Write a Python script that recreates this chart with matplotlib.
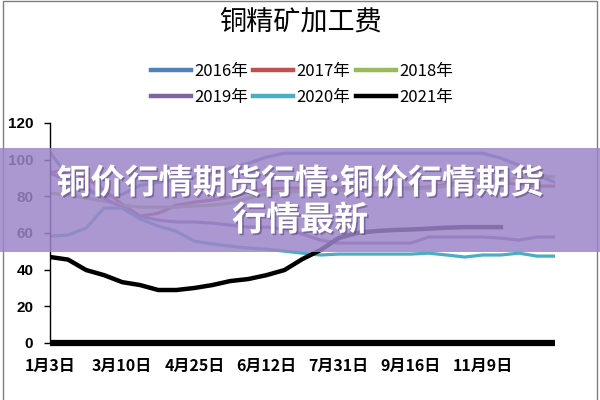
import matplotlib
matplotlib.use('Agg')
import matplotlib.pyplot as plt
from matplotlib.patches import Rectangle
import matplotlib.patheffects as pe

plt.rcParams['font.family'] = ['Noto Sans CJK SC', 'DejaVu Sans']

# ---------------- data ----------------
title = '铜精矿加工费'
weeks = list(range(29))
tick_pos = [0, 4, 8, 12, 16, 20, 24]
tick_labels = ['1月3日', '3月10日', '4月25日', '6月12日', '7月31日', '9月16日', '11月9日']
y_ticks = [0, 20, 40, 60, 80, 100, 120]

y2016 = [104, 91, 83.4, 79.6, 81, 86, 87.7, 88.8, 90.5, 92, 95.4, 98, 101.4, 103.5,
         103.5, 103.5, 103.5, 103.5, 103.5, 103.5, 103.5, 103.5, 103.5, 103.5, 103.5,
         100.8, 97, 91.5, 87.7]
y2017 = [93, 94.3, 90, 83.4, 75.7, 69.2, 70.8, 75.2, 76.8, 78, 79.6, 82.3, 84, 84.5,
         84.5, 84.5, 84.5, 84.5, 84.5, 84.5, 84.5, 85, 86.6, 88.3, 88.3, 87.7, 86.6,
         85.6, 85.6]
y2018 = [81.7, 80.7, 79, 77.4, 75.2, 74.1, 74.1, 74.1, 74.7, 75.2, 76.3, 79, 81.2, 82.3,
         82.8, 83.4, 83.4, 83.4, 83.4, 84, 84, 84.5, 85.6, 86.6, 87.7, 88.8, 90, 91.5,
         90.5]
y2019 = [92.6, 88.8, 84.5, 79, 74.1, 69.2, 67, 66, 66, 65.4, 64.3, 63.2, 63.2, 62.1,
         59.4, 56.1, 54.5, 54.5, 54.5, 54.5, 54.5, 57.8, 57.8, 57.8, 57.8, 57.2, 56.1,
         57.8, 57.8]
y2020 = [58.3, 58.9, 62.7, 73.6, 73.6, 67.6, 63.8, 61, 55.6, 54, 52.8, 51.8, 51.2, 50.1,
         49, 48, 48.5, 48.5, 48.5, 48.5, 48.5, 49, 48, 46.9, 48, 48, 49, 47.4, 47.4]
y2021 = [46.9, 45.5, 39.8, 37, 33.2, 31.6, 28.9, 28.9, 30, 31.6, 33.8, 34.9, 37, 39.8,
         45.8, 50.7, 57.2, 60, 61, 61.6, 61.9, 62.4, 62.9, 63.2, 63.2, 63.2]

series_names = ['2016年', '2017年', '2018年', '2019年', '2020年', '2021年']
series_vals = [y2016, y2017, y2018, y2019, y2020, y2021]
colors = ['#4F81BD', '#C0504D', '#9BBB59', '#8064A2', '#4BACC6', '#000000']

banner_line1 = '铜价行情期货行情:铜价行情期货'
banner_line2 = '行情最新'

# ---------------- figure ----------------
fig = plt.figure(figsize=(6, 4), dpi=100)
ax = fig.add_axes([50/600, 1-343/400, 505/600, 220/400])

handles = {}
for name, vals, c in zip(series_names, series_vals, colors):
    lw = 3.2 if name == '2021年' else 2.3
    h, = ax.plot(weeks[:len(vals)], vals, color=c, lw=lw, solid_joinstyle='round')
    handles[name] = h

ax.axhline(0, color='black', lw=4.5, clip_on=False, solid_capstyle='butt', zorder=5)

ax.set_xlim(0, 28)
ax.set_ylim(0, 120)
ax.set_xticks(tick_pos)
ax.set_xticklabels(tick_labels, fontsize=11.5, fontweight='bold')
ax.set_yticks(y_ticks)
ax.set_yticklabels([str(v) for v in y_ticks], fontsize=11, fontweight='bold',
                   family=['Liberation Sans', 'DejaVu Sans'])
ax.tick_params(axis='x', length=0, pad=11)
ax.tick_params(axis='y', length=4, width=1, direction='out', pad=8)
for s in ['top', 'right', 'bottom']:
    ax.spines[s].set_visible(False)
ax.spines['left'].set_linewidth(1)

fig.text(0.5, 1-22/400, title, ha='center', va='center', fontsize=19.5)

order = ['2016年', '2019年', '2017年', '2020年', '2018年', '2021年']
leg_handles = [plt.Line2D([], [], color=handles[n].get_color(), lw=3.2) for n in order]
fig.legend(leg_handles, order, loc='center', bbox_to_anchor=(302/600, 1-84.5/400),
           ncol=3, frameon=False, fontsize=12, handlelength=2.4, handletextpad=0.2,
           columnspacing=0.3, labelspacing=0.55, borderpad=0)

# border around figure
fig.add_artist(Rectangle((3/600, -0.01), 594/600, 1.008, transform=fig.transFigure,
                         fill=False, edgecolor='#7f7f7f', lw=1))

# overlay banner
fig.add_artist(Rectangle((0, 1-252/400), 1, 104/400, transform=fig.transFigure,
                         facecolor='#9D86C8', alpha=0.85, edgecolor='none', zorder=10))
shadow = [pe.withSimplePatchShadow(offset=(1.2, -1.2), shadow_rgbFace='#5a4a80', alpha=0.6)]
fig.text(0.5, 1-183/400, banner_line1, ha='center', va='center', fontsize=24.5,
         fontweight='bold', color='white', zorder=11, path_effects=shadow)
fig.text(0.5, 1-220/400, banner_line2, ha='center', va='center', fontsize=24.5,
         fontweight='bold', color='white', zorder=11, path_effects=shadow)

fig.savefig('out.png', dpi=100)
